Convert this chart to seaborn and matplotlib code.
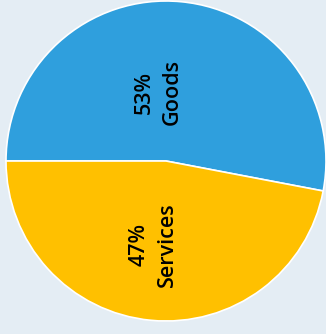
import matplotlib
matplotlib.use("Agg")
import matplotlib.pyplot as plt
import seaborn as sns

categories = ["Goods", "Services"]
shares = [53, 47]
colors = ["#2F9FDD", "#FFC000"]

sns.set_theme(style="white")
plt.rcParams['font.family'] = ['Open Sans', 'DejaVu Sans']

W, H = 326, 334
fig = plt.figure(figsize=(W / 100, H / 100), dpi=100)
bg = "#E4EDF4"
fig.patch.set_facecolor(bg)
cx, cy, r = 166, 161, 160
ax = fig.add_axes([(cx - r) / W, (H - cy - r) / H, 2 * r / W, 2 * r / H])
ax.set_facecolor(bg)

wedges, _ = ax.pie(shares, colors=sns.color_palette(colors), startangle=180,
                   counterclock=False, radius=1,
                   wedgeprops=dict(edgecolor="white", linewidth=1.2))
ax.set_xlim(-1, 1)
ax.set_ylim(-1, 1)
ax.set_aspect("equal")
ax.axis("off")

label_pos = [(-0.05, 0.43), (-0.08, -0.52)]
for cat, val, (x, y) in zip(categories, shares, label_pos):
    ax.text(x, y, f"{val}%\n{cat}", rotation=90, ha="center", va="center",
            multialignment="center", fontsize=15.5, color="black",
            linespacing=1.45, fontweight="semibold")

fig.savefig("out.png", dpi=100, facecolor=bg)
